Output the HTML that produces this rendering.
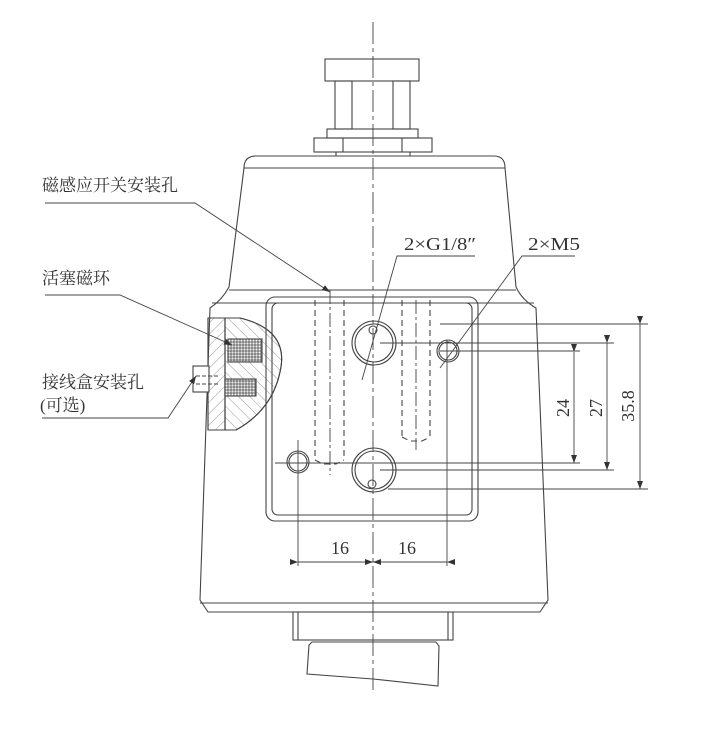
<!DOCTYPE html>
<html><head><meta charset="utf-8"><style>
html,body{margin:0;padding:0;background:#fff;}
svg{display:block;}
text{font-family:"Liberation Serif","Noto Serif CJK SC",serif;fill:#333;}
</style></head><body>
<svg width="723" height="733" viewBox="0 0 723 733" xmlns="http://www.w3.org/2000/svg">
<defs>
<pattern id="h1" width="8" height="8" patternUnits="userSpaceOnUse" patternTransform="rotate(45)"><line x1="0" y1="0" x2="0" y2="8" stroke="#555" stroke-width="0.6"/></pattern>
<pattern id="h2" width="8" height="8" patternUnits="userSpaceOnUse" patternTransform="rotate(-45)"><line x1="0" y1="0" x2="0" y2="8" stroke="#555" stroke-width="0.6"/></pattern>
<pattern id="dots" width="3" height="3" patternUnits="userSpaceOnUse"><rect width="3" height="3" fill="#777"/><circle cx="1.5" cy="1.5" r="1.1" fill="#eee"/></pattern>
<marker id="ar" markerWidth="8" markerHeight="6" refX="8" refY="3" orient="auto" markerUnits="userSpaceOnUse"><path d="M0,0 L8,3 L0,6z" fill="#333"/></marker>
</defs>
<g fill="none" stroke="#444" stroke-width="1.1">
<rect x="325" y="59" width="94" height="22"/>
<rect x="335" y="81" width="17" height="48"/>
<rect x="393" y="81" width="17" height="48"/>
<rect x="327" y="129" width="91" height="9"/>
<rect x="314" y="138" width="118" height="14"/>
<line x1="343" y1="138" x2="343" y2="152"/><line x1="402" y1="138" x2="402" y2="152"/>
<line x1="336" y1="152" x2="336" y2="156"/><line x1="410" y1="152" x2="410" y2="156"/>
<path d="M244,168 Q244,156 256,156 L494,156 Q505,156 505,168"/>
<line x1="244" y1="168" x2="505" y2="168"/>
<path d="M244,168 L229,287 Q222,300 210,308 L200,600 L208,612 L540,612 L548,600 L536,308 Q522,300 516,287 L505,168"/>
<line x1="229" y1="290" x2="516" y2="290"/>
<line x1="212" y1="303" x2="534" y2="303"/>
<line x1="200" y1="603" x2="548" y2="603"/>
<rect x="266" y="297" width="212" height="224" rx="9"/>
<rect x="272" y="303" width="200" height="212" rx="6"/>
<circle cx="374" cy="343" r="22"/><circle cx="374" cy="343" r="19"/>
<circle cx="374" cy="470" r="22"/><circle cx="374" cy="470" r="19"/>
<circle cx="448" cy="351" r="11"/><circle cx="448" cy="351" r="9"/>
<circle cx="298" cy="462" r="11"/><circle cx="298" cy="462" r="9"/>
<circle cx="373" cy="330" r="4"/><circle cx="372" cy="484" r="4"/>
<g stroke-dasharray="6,4">
<line x1="315" y1="300" x2="315" y2="460"/><line x1="344" y1="300" x2="344" y2="460"/>
<line x1="402" y1="300" x2="402" y2="437"/><line x1="430" y1="300" x2="430" y2="437"/>
<path d="M315,460 L323,464 L336,464 L344,460"/><path d="M402,437 L410,441 L422,441 L430,437"/>
</g>
<g stroke-dasharray="14,3,3,3" stroke-width="0.9">
<line x1="330" y1="290" x2="330" y2="475"/><line x1="416" y1="300" x2="416" y2="450"/>
</g>
<rect x="293" y="612" width="160" height="28"/>
<line x1="298" y1="612" x2="298" y2="640"/><line x1="448" y1="612" x2="448" y2="640"/>
<path d="M309,645 L312,642 L436,642 L439,646 L438,686 L373,679 L307,674 Z"/>
<path d="M208,318 L225,318 L225,430 L208,430 Z" fill="url(#h1)"/>
<path d="M225,318 L240,318 Q290,330 280,372 Q272,410 236,430 L225,430 Z" fill="url(#h2)"/>
<path d="M208,318 L240,318 Q290,330 280,372 Q272,410 236,430 L208,430 Z" fill="none"/>
<line x1="225" y1="318" x2="225" y2="430"/>
<rect x="228" y="339" width="34" height="23" fill="url(#dots)"/>
<rect x="225" y="379" width="31" height="17" fill="url(#dots)"/>
<rect x="193" y="366" width="16" height="26" fill="#fff"/>
<path d="M196,376 L218,376 M196,384 L218,384" stroke-dasharray="4,2"/>
<line x1="373" y1="22" x2="373" y2="690" stroke-dasharray="22,4,4,4" stroke-width="0.9"/>
<line x1="298" y1="440" x2="298" y2="566" stroke-width="0.9"/>
<line x1="447" y1="340" x2="447" y2="566" stroke-width="0.9"/>
<line x1="440" y1="324" x2="648" y2="324" stroke-width="0.9"/>
<line x1="388" y1="489" x2="648" y2="489" stroke-width="0.9"/>
<line x1="380" y1="343" x2="614" y2="343" stroke-width="0.9"/>
<line x1="380" y1="470" x2="614" y2="470" stroke-width="0.9"/>
<line x1="440" y1="351" x2="580" y2="351" stroke-width="0.9"/>
<line x1="275" y1="463" x2="580" y2="463" stroke-width="0.9"/>
<g stroke-width="0.9" marker-start="url(#ar)" marker-end="url(#ar)">
<line x1="574" y1="352" x2="574" y2="463"/>
<line x1="607" y1="343" x2="607" y2="470"/>
<line x1="640" y1="324" x2="640" y2="489"/>
<line x1="298" y1="562" x2="373" y2="562"/>
<line x1="447" y1="562" x2="373" y2="562"/>
</g>
<g stroke-width="0.9">
<polyline points="45,203 195,203 330,292" marker-end="url(#ar)"/>
<polyline points="45,295 120,295 232,345" marker-end="url(#ar)"/>
<polyline points="42,418 168,418 196,376" marker-end="url(#ar)"/>
<polyline points="475,256 397,256 362,380"/>
<polyline points="575,256 522,256 440,368"/>
</g>
</g>
<g font-size="17">
<text x="42" y="191">磁感应开关安装孔</text>
<text x="42" y="284">活塞磁环</text>
<text x="42" y="388">接线盒安装孔</text>
<text x="40" y="411">(可选)</text>
</g>
<g font-size="18">
<text x="404" y="250" textLength="72" lengthAdjust="spacingAndGlyphs">2×G1/8″</text>
<text x="528" y="250" textLength="52" lengthAdjust="spacingAndGlyphs">2×M5</text>
<text x="331" y="554">16</text>
<text x="398" y="554">16</text>
<text transform="translate(569,408) rotate(-90)" text-anchor="middle">24</text>
<text transform="translate(602,408) rotate(-90)" text-anchor="middle">27</text>
<text transform="translate(634,406) rotate(-90)" text-anchor="middle">35.8</text>
</g>
</svg>
</body></html>
